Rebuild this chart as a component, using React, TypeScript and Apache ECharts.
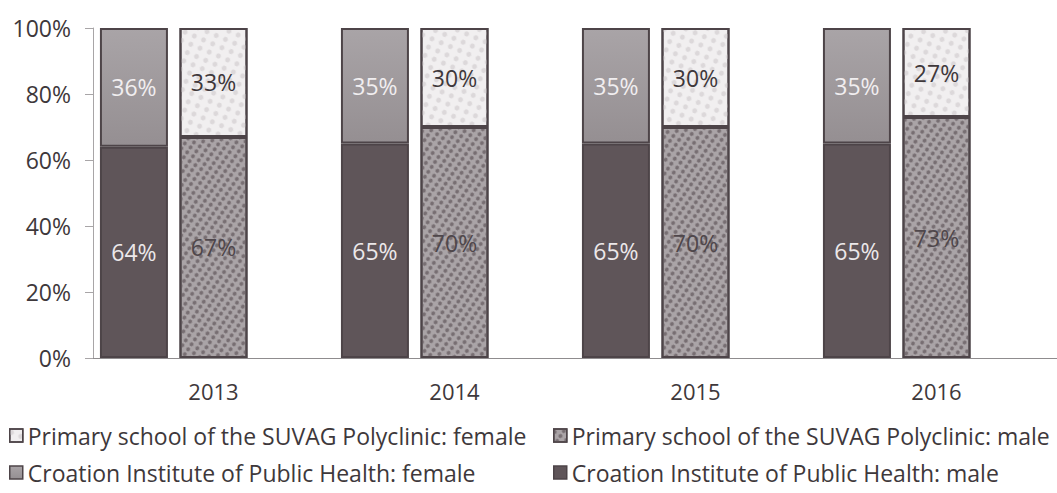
import React, { useEffect, useRef } from "react";
import * as echarts from "echarts";

const years = ["2013", "2014", "2015", "2016"];
const yMin = 0;
const yMax = 100;
const yStep = 20;
const croatianMale = [64, 65, 65, 65];
const croatianFemale = [36, 35, 35, 35];
const suvagMale = [67, 70, 70, 73];
const suvagFemale = [33, 30, 30, 27];
const emptySlot = [null, null, null, null];

const nameSuvagFemale = "Primary school of the SUVAG Polyclinic: female";
const nameSuvagMale = "Primary school of the SUVAG Polyclinic: male";
const nameCroFemale = "Croation Institute of Public Health: female";
const nameCroMale = "Croation Institute of Public Health: male";

const FONT = "'Open Sans', 'Noto Sans', sans-serif";
const BORDER = "#4d4448";
const TEXT = "#3e383b";

const colDark = "#5f5559";
const colMid = {
  type: "linear",
  x: 0,
  y: 0,
  x2: 0,
  y2: 1,
  colorStops: [
    { offset: 0, color: "#a9a4a7" },
    { offset: 1, color: "#958f92" },
  ],
};
const colPattern = "#aaa4a7";
const decalPattern = {
  symbol: "circle",
  symbolSize: 1,
  color: "#776e72",
  dashArrayX: [5, 2],
  dashArrayY: [4, 2],
  rotation: 0.6,
};
const colLight = "#f1eff0";
const decalLight = {
  symbol: "circle",
  symbolSize: 1,
  color: "#dcd8da",
  dashArrayX: [6, 4],
  dashArrayY: [5, 4],
  rotation: 0.4,
};

export default function App() {
  const ref = useRef<HTMLDivElement>(null);
  useEffect(() => {
    if (!ref.current) return;
    const chart = echarts.init(ref.current, undefined, { renderer: "svg" });
    const label = (color: string) => ({
      show: true,
      position: "inside",
      formatter: "{c}%",
      fontFamily: FONT,
      fontSize: 23,
      color,
    });
    const barBase = {
      type: "bar",
      barWidth: 68,
      barGap: "17%",
    };
    const legendItem = (name: string, left: number, top: number) => ({
      data: [{ name }],
      left,
      top,
      padding: 0,
      orient: "horizontal",
      icon: "rect",
      itemWidth: 13,
      itemHeight: 13,
      itemStyle: { borderColor: BORDER, borderWidth: 1.5 },
      textStyle: { fontFamily: FONT, fontSize: 23, color: TEXT },
      selectedMode: false,
    });
    chart.setOption({
      animation: false,
      backgroundColor: "#ffffff",
      grid: { left: 93, right: 0, top: 28, bottom: 135 },
      legend: [
        legendItem(nameSuvagFemale, 9, 424),
        legendItem(nameSuvagMale, 553, 424),
        legendItem(nameCroFemale, 9, 461),
        legendItem(nameCroMale, 553, 461),
      ],
      xAxis: {
        type: "category",
        data: years,
        axisTick: { show: false },
        axisLine: { lineStyle: { color: "#8f8c8e", width: 1 } },
        axisLabel: { fontFamily: FONT, fontSize: 22, color: TEXT, margin: 22 },
      },
      yAxis: {
        type: "value",
        min: yMin,
        max: yMax,
        interval: yStep,
        axisLine: { show: true, lineStyle: { color: "#a8a5a7" } },
        axisTick: { show: true, length: 8, lineStyle: { color: "#a8a5a7" } },
        splitLine: { show: false },
        axisLabel: {
          formatter: "{value}%",
          fontFamily: FONT,
          fontSize: 23,
          color: TEXT,
          margin: 22,
        },
      },
      series: [
        {
          ...barBase,
          name: nameCroMale,
          stack: "cro",
          data: croatianMale,
          itemStyle: { color: colDark, borderColor: BORDER, borderWidth: 2 },
          label: label("#ece8ea"),
        },
        {
          ...barBase,
          name: nameCroFemale,
          stack: "cro",
          data: croatianFemale,
          itemStyle: { color: colMid, borderColor: BORDER, borderWidth: 2 },
          label: label("#f1eef0"),
        },
        {
          ...barBase,
          name: nameSuvagMale,
          stack: "suvag",
          data: suvagMale,
          itemStyle: {
            color: colPattern,
            borderColor: BORDER,
            borderWidth: 2,
            decal: decalPattern,
          },
          label: label("#4f474b"),
        },
        {
          ...barBase,
          name: nameSuvagFemale,
          stack: "suvag",
          data: suvagFemale,
          itemStyle: {
            color: colLight,
            borderColor: BORDER,
            borderWidth: 2,
            decal: decalLight,
          },
          label: label("#3f383b"),
        },
        {
          ...barBase,
          name: "spacer",
          stack: "spacer",
          data: emptySlot,
          silent: true,
        },
      ],
    });
    return () => chart.dispose();
  }, []);
  return (
    <div
      ref={ref}
      style={{ position: "absolute", left: 0, top: 0, width: 1057, height: 493 }}
    />
  );
}
